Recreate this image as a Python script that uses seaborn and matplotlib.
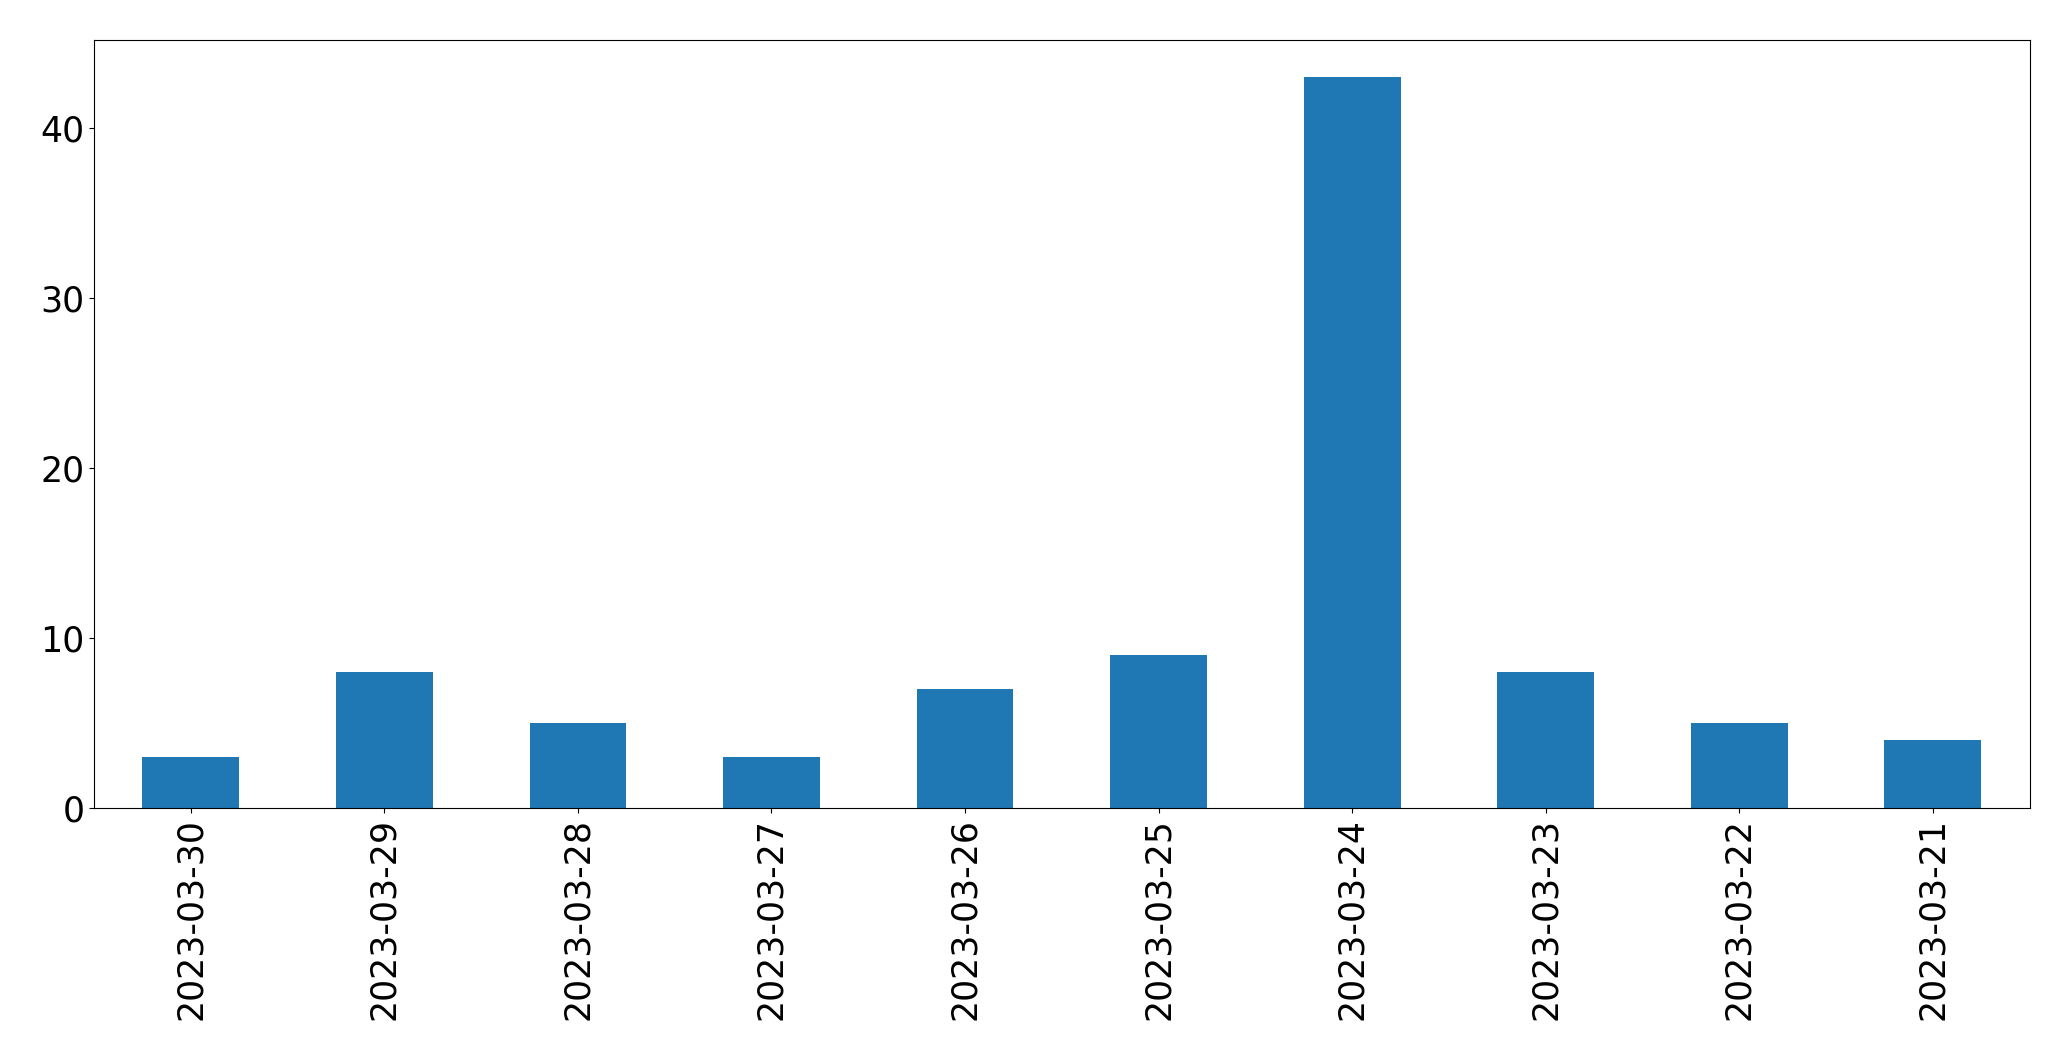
import matplotlib
matplotlib.use("Agg")
import matplotlib.pyplot as plt
import pandas as pd
import seaborn as sns

# daily counts, newest first (as in the original chart)
dates = ["2023-03-30", "2023-03-29", "2023-03-28", "2023-03-27", "2023-03-26",
         "2023-03-25", "2023-03-24", "2023-03-23", "2023-03-22", "2023-03-21"]
counts = [3, 8, 5, 3, 7, 9, 43, 8, 5, 4]

BAR_COLOR = "#1f77b4"
FONT_SIZE = 25

df = pd.DataFrame({"date": dates, "count": counts})

fig = plt.figure(figsize=(20.71, 10.61), dpi=100)
ax = fig.add_axes([0.0454, 0.2385, 0.9346, 0.7235])

sns.barplot(data=df, x="date", y="count", order=dates, color=BAR_COLOR,
            saturation=1, width=0.5, ax=ax)

ax.set_xlim(-0.5, len(dates) - 0.5)
ax.set_ylim(0, max(counts) * 1.05)
ax.set_xlabel("")
ax.set_ylabel("")
ax.tick_params(axis="both", labelsize=FONT_SIZE)
ax.tick_params(axis="x", labelrotation=90)
for side in ["top", "right", "left", "bottom"]:
    ax.spines[side].set_visible(True)

fig.savefig("out.png", dpi=100)
